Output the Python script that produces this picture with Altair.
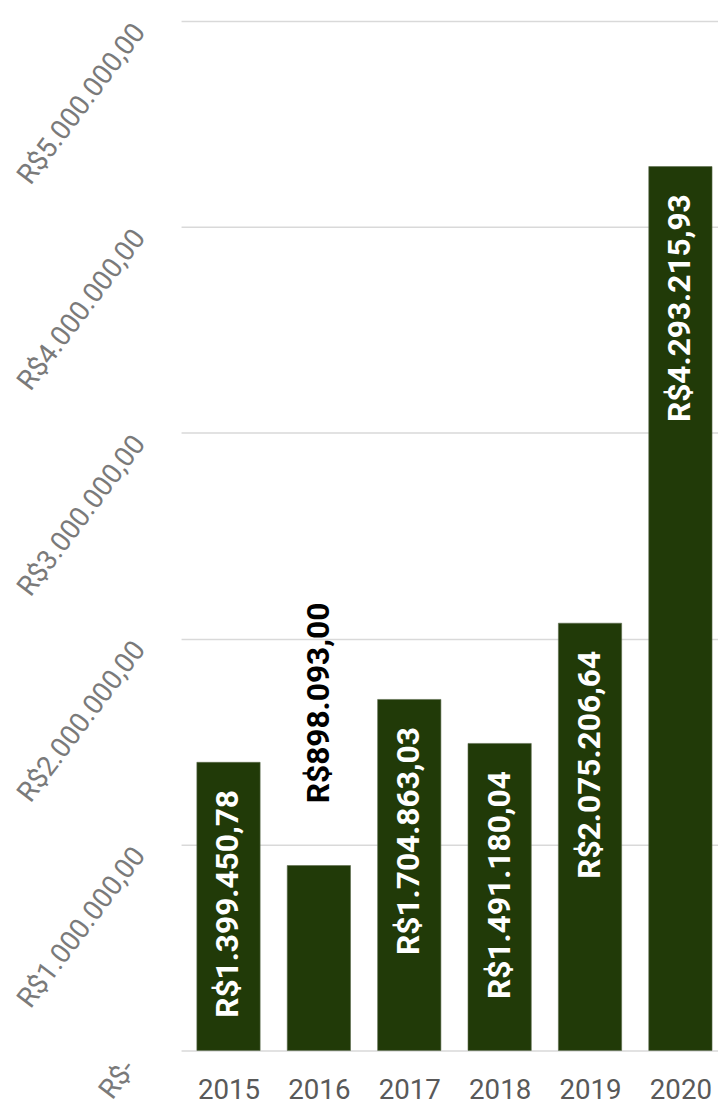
import altair as alt
import pandas as pd

years = ["2015", "2016", "2017", "2018", "2019", "2020"]
values = [1399450.78, 898093.00, 1704863.03, 1491180.04, 2075206.64, 4293215.93]
inside = [True, False, True, True, True, True]
y_ticks = [0, 1000000, 2000000, 3000000, 4000000, 5000000]


def brl(v):
    s = f"{v:,.2f}"
    s = s.replace(",", "#").replace(".", ",").replace("#", ".")
    return "R$" + s


df = pd.DataFrame({
    "year": years,
    "idx": list(range(len(years))),
    "value": values,
    "label": [brl(v) for v in values],
    "inside": inside,
})
df["lo"] = df["idx"] - 0.35
df["hi"] = df["idx"] + 0.35

FONT = "Roboto"
BAR = "#213a08"

xscale = alt.Scale(domain=[-0.525, 5.416], nice=False, zero=False)
x_axis = alt.Axis(values=list(range(len(years))), labelExpr="'' + (2015 + datum.value)",
                  labelAngle=0, labelFont=FONT, labelFontSize=28, labelColor="#595959",
                  labelPadding=27, ticks=False, domain=False, grid=False, labelFlush=False)
y = alt.Y("value:Q", title=None,
          scale=alt.Scale(domain=[0, 5000000], nice=False),
          axis=alt.Axis(values=y_ticks, labelAngle=-53, labelAlign="right", labelBaseline="middle",
                        labelFont=FONT, labelFontSize=28, labelColor="#7a7a7a",
                        labelPadding={"condition": {"test": "datum.value == 0", "value": 52}, "value": 42},
                        labelOffset={"condition": {"test": "datum.value == 0", "value": 13}, "value": 6},
                        labelLimit=500,
                        labelExpr="datum.value == 0 ? 'R$-' : 'R$' + (datum.value/1000000) + '.000.000,00'",
                        ticks=False, domain=False, grid=True, gridColor="#d9d9d9", gridWidth=1.5))

base = alt.Chart(df)

bars = base.mark_bar(color=BAR, stroke="#5b6b4c", strokeWidth=0.6).encode(
    x=alt.X("lo:Q", title=None, scale=xscale, axis=x_axis),
    x2="hi:Q",
    y=y,
    y2=alt.datum(0),
)

lab_in = base.transform_filter("datum.inside").mark_text(
    angle=270, align="right", baseline="middle", yOffset=28,
    color="white", font=FONT, fontWeight="bold", fontSize=32
).encode(x=alt.X("idx:Q", scale=xscale), y=alt.Y("value:Q"), text="label:N")

lab_out = base.transform_filter("!datum.inside").mark_text(
    angle=270, align="left", baseline="middle", yOffset=-63,
    color="black", font=FONT, fontWeight="bold", fontSize=32
).encode(x=alt.X("idx:Q", scale=xscale), y=alt.Y("value:Q"), text="label:N")

chart = alt.layer(bars, lab_in, lab_out).properties(
    width=543, height=1041,
    autosize=alt.AutoSizeParams(type="none"),
    padding={"left": 175, "top": 7, "right": 0, "bottom": 50},
    background="white",
).configure_view(stroke=None)

chart.save("out.html", embed_options={"renderer": "svg", "actions": False})
